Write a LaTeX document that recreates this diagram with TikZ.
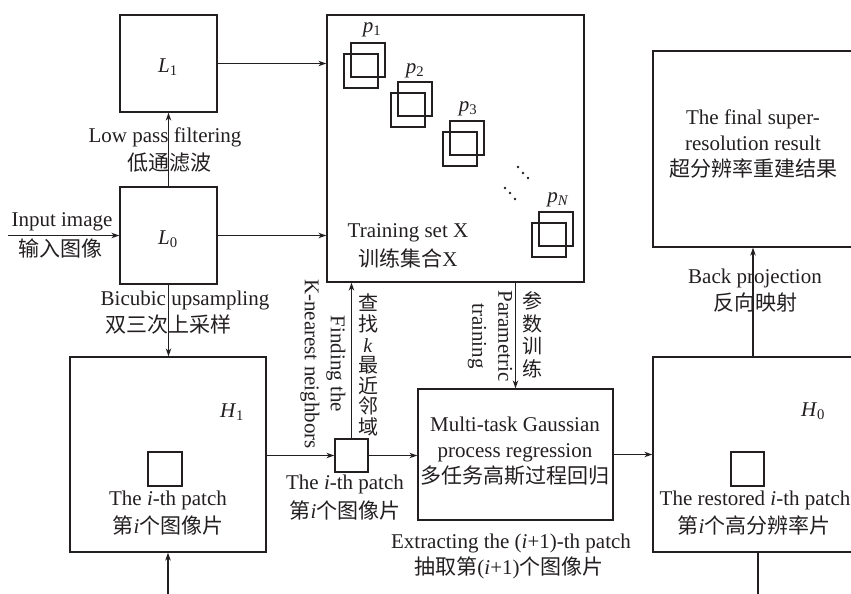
\documentclass[tikz,border=0pt]{standalone}
\usepackage{fontspec}
\setmainfont{Liberation Serif}
\newfontfamily\cjk{Noto Sans CJK SC}
\usetikzlibrary{arrows.meta}
\newcommand{\zh}[1]{{\cjk #1}}
\definecolor{ink}{HTML}{231F20}
\begin{document}
\begin{tikzpicture}[x=1pt,y=-1pt,
  every node/.style={text=ink},
  lbl/.style={font=\fontsize{21}{26}\selectfont, align=center, inner sep=0pt},
  vert/.style={font=\fontsize{20}{20.6}\selectfont, align=center, inner sep=0pt},
  boxnode/.style={draw=ink, line width=1.3pt, inner sep=0pt},
  arr/.style={draw=ink, line width=1.3pt, -{Stealth[length=8pt,width=5.5pt]}},
  ln/.style={draw=ink, line width=1.3pt},
  sq/.style={draw=ink, line width=1.3pt}
]
\useasboundingbox (0,0) rectangle (851,594);

% boxes
\node[boxnode, minimum width=97pt, minimum height=97pt] (L1) at (168.5,63.5) {};
\node[boxnode, minimum width=97pt, minimum height=97pt] (L0) at (168.5,235.5) {};
\node[boxnode, minimum width=257pt, minimum height=267pt] (train) at (455.5,148.5) {};
\node[boxnode, minimum width=200pt, minimum height=196pt] (final) at (753,149) {};
\node[boxnode, minimum width=196pt, minimum height=195pt] (H1) at (168,454.5) {};
\node[boxnode, minimum width=33pt, minimum height=33pt] (patch) at (351.5,455.5) {};
\node[boxnode, minimum width=195pt, minimum height=131pt] (mtgp) at (515.5,454.5) {};
\node[boxnode, minimum width=200pt, minimum height=195pt] (H0) at (753,454.5) {};

% labels inside boxes
\node[lbl] (tL1) at (168,67) {\textit{L}\textsubscript{1}};
\node[lbl] (tL0) at (168,239) {\textit{L}\textsubscript{0}};
\node[lbl] (tH1) at (232,412) {\textit{H}\textsubscript{1}};
\node[lbl] (tH0) at (813,411) {\textit{H}\textsubscript{0}};

% patches in training set
\draw[sq] (351,43) rectangle (385,77);
\draw[sq] (344,54) rectangle (378,88);
\draw[sq] (398,82) rectangle (432,116);
\draw[sq] (391,93) rectangle (425,127);
\draw[sq] (450,121) rectangle (484,155);
\draw[sq] (443,132) rectangle (477,166);
\draw[sq] (539,212) rectangle (573,246);
\draw[sq] (532,223) rectangle (566,257);
\node[lbl] (p1) at (372,30) {\textit{p}\textsubscript{1}};
\node[lbl] (p2) at (415,71) {\textit{p}\textsubscript{2}};
\node[lbl] (p3) at (468,109) {\textit{p}\textsubscript{3}};
\node[lbl] (pN) at (558,200) {\textit{p}\textsubscript{\textit{N}}};
\foreach \x/\y in {518/167,523/173,528/178,505/188,510/193,515/199}
  \fill[ink] (\x,\y) circle (1.4pt);

% small squares in H1 and H0
\node[boxnode, minimum width=34pt, minimum height=34pt] (sqH1) at (165,469) {};
\node[boxnode, minimum width=33pt, minimum height=34pt] (sqH0) at (747.5,469) {};

% texts
\node[lbl] (tin) at (62,222) {Input image};
\node[lbl] (tinz) at (60,248) {\zh{输入图像}};
\node[lbl] (tlp) at (165,137) {Low pass filtering};
\node[lbl] (tlpz) at (169,163) {\zh{低通滤波}};
\node[lbl] (tbi) at (185,300) {Bicubic upsampling};
\node[lbl] (tbiz) at (168,325) {\zh{双三次上采样}};
\node[lbl] (ttr) at (408,233) {Training set X};
\node[lbl] (ttrz) at (408,258) {\zh{训练集合}X};
\node[lbl] (tfin) at (753,144) {The final super-\\resolution result\\\zh{超分辨率重建结果}};
\node[lbl] (tbp) at (755,278) {Back projection};
\node[lbl] (tbpz) at (755,303) {\zh{反向映射}};
\node[lbl] (tph1) at (168,500) {The \textit{i}-th patch};
\node[lbl] (tph1z) at (168,525) {\zh{第}\textit{i}\zh{个图像片}};
\node[lbl] (tp) at (345,484) {The \textit{i}-th patch};
\node[lbl] (tpz) at (345,510) {\zh{第}\textit{i}\zh{个图像片}};
\node[lbl] (tm) at (515,451) {Multi-task Gaussian\\process regression\\\zh{多任务高斯过程回归}};
\node[lbl] (tex) at (511,543) {Extracting the (\textit{i}+1)-th patch};
\node[lbl] (texz) at (509,568) {\zh{抽取第}(\textit{i}+1)\zh{个图像片}};
\node[lbl] (tph0) at (755,500) {The restored \textit{i}-th patch};
\node[lbl] (tph0z) at (754,525) {\zh{第}\textit{i}\zh{个高分辨率片}};
\node[lbl, rotate=-90] (tknn) at (323,364) {Finding the\\K-nearest neighbors};
\node[vert] (tknnz) at (368,365) {\zh{查}\\\zh{找}\\\textit{k}\\\zh{最}\\\zh{近}\\\zh{邻}\\\zh{域}};
\node[lbl, rotate=-90] (tpt) at (490,336) {Parametric\\training};
\node[vert, font=\fontsize{20}{22.5}\selectfont] (tptz) at (532,335) {\zh{参}\\\zh{数}\\\zh{训}\\\zh{练}};

% connectors
\coordinate (inp) at (8,235.5);
\coordinate (bot) at (168,594);
\coordinate (out) at (758,594);
\draw[arr] (inp) -- (L0.west);
\draw[arr] (L0.north) -- (L1.south);
\draw[arr] (L1.east) -- (L1.east -| train.west);
\draw[arr] (L0.east) -- (L0.east -| train.west);
\draw[arr] (L0.south) -- (L0.south |- H1.north);
\draw[arr] (bot) -- (H1.south);
\draw[arr] (H1.east |- patch.west) -- (patch.west);
\draw[arr] (patch.east) -- (patch.east -| mtgp.west);
\draw[arr] (patch.north) -- (patch.north |- train.south);
\draw[arr] (mtgp.north |- train.south) -- (mtgp.north);
\draw[arr] (mtgp.east) -- (mtgp.east -| H0.west);
\draw[arr] (H0.north) -- (final.south);
\draw[ln] (out |- H0.south) -- (out);
\end{tikzpicture}
\end{document}
